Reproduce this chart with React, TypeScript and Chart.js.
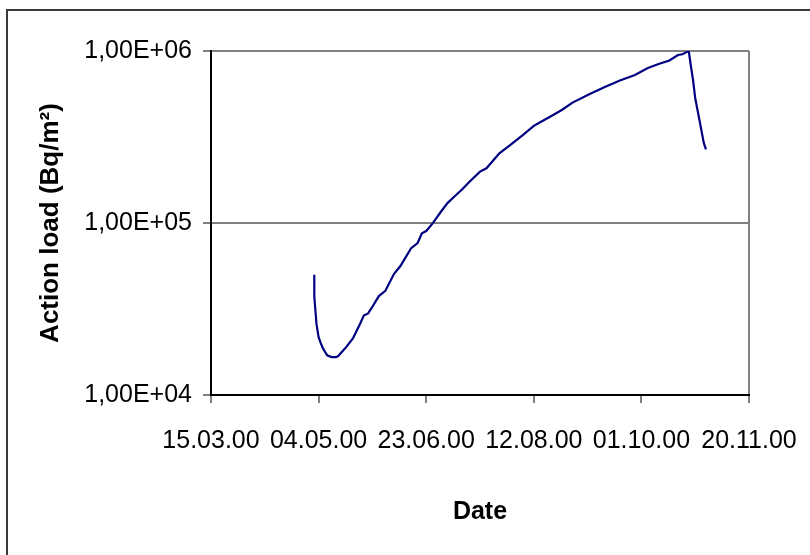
import React, { useEffect, useRef } from "react";
import { Chart, registerables } from "chart.js";

Chart.register(...registerables);

// Measurement dates (dd.mm.yy) and action load in Bq/m²
const dates: string[] = [
  "02.05.00", "02.05.00", "03.05.00", "04.05.00", "05.05.00", "06.05.00",
  "07.05.00", "08.05.00", "10.05.00", "12.05.00", "13.05.00", "15.05.00",
  "17.05.00", "20.05.00", "23.05.00", "25.05.00", "27.05.00", "29.05.00",
  "01.06.00", "04.06.00", "08.06.00", "11.06.00", "16.06.00", "19.06.00",
  "21.06.00", "23.06.00", "26.06.00", "30.06.00", "03.07.00", "06.07.00",
  "10.07.00", "13.07.00", "18.07.00", "21.07.00", "27.07.00", "01.08.00",
  "07.08.00", "12.08.00", "16.08.00", "21.08.00", "25.08.00", "30.08.00",
  "07.09.00", "14.09.00", "21.09.00", "28.09.00", "04.10.00", "09.10.00",
  "14.10.00", "18.10.00", "20.10.00", "22.10.00", "23.10.00", "24.10.00",
  "25.10.00", "26.10.00", "28.10.00", "30.10.00", "31.10.00",
];

const actionLoad: number[] = [
  50000, 37500, 26000, 21700, 20000, 18700,
  17800, 17000, 16600, 16600, 16800, 17900,
  19100, 21400, 25500, 29000, 29800, 32600,
  37600, 40300, 50500, 56200, 71300, 76500,
  87100, 89800, 99500, 117000, 131000, 142000,
  158000, 173000, 199000, 208000, 254000, 284000,
  325000, 367000, 392000, 425000, 454000, 501000,
  562000, 618000, 674000, 725000, 796000, 840000,
  880000, 948000, 957000, 985000, 1000000, 818000,
  678000, 533000, 395000, 292000, 268000,
];

const xTickLabels: string[] = [
  "15.03.00", "04.05.00", "23.06.00", "12.08.00", "01.10.00", "20.11.00",
];
const yTickValues: number[] = [1e4, 1e5, 1e6];

const FONT = "'Liberation Sans', Arial, sans-serif";
const DAY = 86400000;

function toDay(s: string): number {
  const [d, m, y] = s.split(".").map(Number);
  return Date.UTC(2000 + y, m - 1, d) / DAY;
}

function fmtDay(v: number): string {
  const dt = new Date(Math.round(v) * DAY);
  const p = (n: number) => String(n).padStart(2, "0");
  return `${p(dt.getUTCDate())}.${p(dt.getUTCMonth() + 1)}.${p(dt.getUTCFullYear() % 100)}`;
}

function fmtSci(v: number): string {
  const e = Math.floor(Math.log10(v) + 1e-9);
  const mant = v / Math.pow(10, e);
  const sign = e >= 0 ? "+" : "-";
  return `${mant.toFixed(2).replace(".", ",")}E${sign}${String(Math.abs(e)).padStart(2, "0")}`;
}

// Frame lines along the top and left edge of the picture
const framePlugin = {
  id: "frame",
  beforeDraw(chart: any) {
    const ctx = chart.ctx;
    ctx.save();
    ctx.fillStyle = "#ffffff";
    ctx.fillRect(0, 0, chart.width, chart.height);
    ctx.fillStyle = "#3a3a3a";
    ctx.fillRect(6, 9, 2, chart.height);
    ctx.fillRect(6, 9, chart.width, 2);
    ctx.restore();
  },
};

export default function App() {
  const ref = useRef<HTMLCanvasElement>(null);

  useEffect(() => {
    if (!ref.current) return;
    const points = dates.map((d, i) => ({ x: toDay(d), y: actionLoad[i] }));
    const xTicks = xTickLabels.map(toDay);

    const chart = new Chart(ref.current, {
      type: "line",
      data: {
        datasets: [
          {
            data: points,
            borderColor: "#000080",
            borderWidth: 2.2,
            pointRadius: 0,
            tension: 0,
            fill: false,
          },
        ],
      },
      options: {
        animation: false,
        responsive: false,
        devicePixelRatio: 1,
        layout: { padding: { top: 51, right: 61, left: 0, bottom: 0 } },
        plugins: {
          legend: { display: false },
          tooltip: { enabled: false },
        },
        scales: {
          x: {
            type: "linear",
            min: xTicks[0],
            max: xTicks[xTicks.length - 1],
            afterBuildTicks: (scale: any) => {
              scale.ticks = xTicks.map((v) => ({ value: v }));
            },
            afterFit: (scale: any) => {
              scale.height = 160;
              scale.paddingLeft = 0;
              scale.paddingRight = 0;
            },
            border: { display: true, color: "#000000", width: 2 },
            grid: {
              drawOnChartArea: true,
              color: (ctx: any) =>
                ctx.index === xTicks.length - 1 ? "#808080" : "rgba(0,0,0,0)",
              lineWidth: 2,
              tickLength: 8,
              tickColor: "#000000",
              tickWidth: 1,
            },
            ticks: {
              autoSkip: false,
              maxRotation: 0,
              padding: 23,
              color: "#000000",
              font: { family: FONT, size: 25 },
              callback: (v: any) => fmtDay(Number(v)),
            },
            title: {
              display: true,
              text: "Date",
              color: "#000000",
              font: { family: FONT, size: 25, weight: "bold" },
              padding: { top: 0, bottom: 28 },
            },
          },
          y: {
            type: "logarithmic",
            min: 1e4,
            max: 1e6,
            afterBuildTicks: (scale: any) => {
              scale.ticks = yTickValues.map((v) => ({ value: v }));
            },
            afterFit: (scale: any) => {
              scale.width = 211;
              scale.paddingTop = 0;
              scale.paddingBottom = 0;
            },
            border: { display: true, color: "#000000", width: 2 },
            grid: {
              color: (ctx: any) =>
                ctx.tick && ctx.tick.value === 1e4 ? "#000000" : "#808080",
              lineWidth: 2,
              tickLength: 8,
              tickColor: "#000000",
              tickWidth: 1,
            },
            ticks: {
              padding: 11,
              color: "#000000",
              font: { family: FONT, size: 25 },
              callback: (v: any) => fmtSci(Number(v)),
            },
            title: {
              display: true,
              text: "Action load (Bq/m²)",
              color: "#000000",
              font: { family: FONT, size: 26, weight: "bold" },
              padding: { top: 35, bottom: 0 },
            },
          },
        },
      },
      plugins: [framePlugin],
    });

    return () => chart.destroy();
  }, []);

  return (
    <div style={{ position: "fixed", left: 0, top: 0, width: 810, height: 555, background: "#fff" }}>
      <canvas ref={ref} width={810} height={555} />
    </div>
  );
}
